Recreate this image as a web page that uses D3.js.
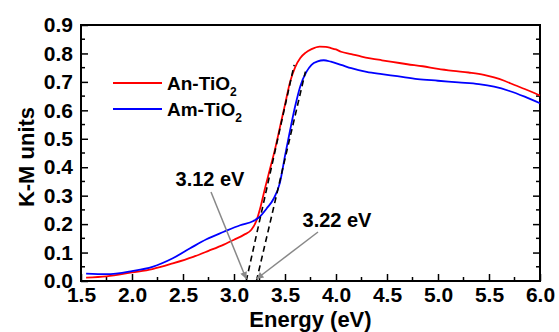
<!DOCTYPE html>
<html>
<head>
<meta charset="utf-8">
<script src="https://cdn.jsdelivr.net/npm/d3@7/dist/d3.min.js"></script>
<style>
  body { margin: 0; background: #fff; }
  svg text { font-family: "Liberation Sans", Arial, sans-serif; font-weight: bold; fill: #000; }
</style>
</head>
<body>
<div id="chart"></div>
<script>
// An-TiO2 (red) K-M values
const anEnergy = [1.55, 1.75, 2.0, 2.2, 2.4, 2.6, 2.75, 2.9, 3.0, 3.1, 3.17, 3.22, 3.26, 3.30, 3.35, 3.40, 3.45, 3.50, 3.55, 3.60, 3.65, 3.70, 3.76, 3.84, 3.90, 3.95, 4.00, 4.05, 4.15, 4.25, 4.35, 4.45, 4.55, 4.70, 4.85, 5.00, 5.15, 5.30, 5.45, 5.55, 5.65, 5.75, 5.85, 5.95, 6.00];
const anKM = [0.012, 0.016, 0.030, 0.042, 0.062, 0.085, 0.106, 0.128, 0.145, 0.163, 0.180, 0.212, 0.26, 0.32, 0.39, 0.46, 0.54, 0.62, 0.70, 0.752, 0.784, 0.802, 0.815, 0.824, 0.823, 0.819, 0.814, 0.806, 0.798, 0.789, 0.782, 0.776, 0.770, 0.762, 0.755, 0.746, 0.739, 0.733, 0.725, 0.716, 0.704, 0.689, 0.675, 0.660, 0.652];

// Am-TiO2 (blue) K-M values
const amEnergy = [1.55, 1.75, 2.0, 2.2, 2.4, 2.57, 2.73, 2.9, 3.06, 3.19, 3.25, 3.32, 3.39, 3.45, 3.50, 3.55, 3.60, 3.65, 3.71, 3.76, 3.82, 3.88, 3.95, 4.05, 4.15, 4.30, 4.45, 4.60, 4.80, 5.00, 5.20, 5.40, 5.55, 5.70, 5.85, 6.00];
const amKM = [0.026, 0.024, 0.035, 0.050, 0.080, 0.115, 0.147, 0.173, 0.196, 0.211, 0.225, 0.255, 0.29, 0.345, 0.44, 0.53, 0.615, 0.685, 0.735, 0.760, 0.772, 0.776, 0.771, 0.760, 0.748, 0.735, 0.727, 0.720, 0.710, 0.704, 0.698, 0.692, 0.683, 0.668, 0.648, 0.625];

// band gap tangent lines: [x0, y0, x1, y1]
const tangents = [[3.12, 0, 3.59, 0.76], [3.22, 0, 3.70, 0.736]];
const gapLabels = ["3.12 eV", "3.22 eV"];
const gapValues = [3.12, 3.22];

const xTicks = [1.5, 2.0, 2.5, 3.0, 3.5, 4.0, 4.5, 5.0, 5.5, 6.0];
const yTicks = [0.0, 0.1, 0.2, 0.3, 0.4, 0.5, 0.6, 0.7, 0.8, 0.9];
const seriesNames = ["An-TiO", "Am-TiO"];
const seriesColors = ["#ff0000", "#0000ff"];

const W = 559, H = 332;
const m = { left: 81, right: 19, top: 25, bottom: 51 };

const svg = d3.select('#chart').append('svg')
  .attr('width', W)
  .attr('height', H);

const x = d3.scaleLinear().domain([1.5, 6.0]).range([m.left, W - m.right]);
const y = d3.scaleLinear().domain([0, 0.9]).range([H - m.bottom, m.top]);

// ticks (inward), major + minor
const xMinor = d3.range(1.75, 6.0, 0.5);
const yMinor = d3.range(0.05, 0.9, 0.1);

const xAxis = d3.axisBottom(x).tickValues(xTicks).tickFormat(d3.format('.1f')).tickSizeInner(-7).tickSizeOuter(0).tickPadding(6);
const yAxis = d3.axisLeft(y).tickValues(yTicks).tickFormat(d3.format('.1f')).tickSizeInner(-7).tickSizeOuter(0).tickPadding(8);

const gx = svg.append('g').attr('transform', `translate(0,${H - m.bottom})`).call(xAxis);
const gy = svg.append('g').attr('transform', `translate(${m.left},0)`).call(yAxis);
// right side ticks (mirror, no labels)
const gr = svg.append('g').attr('transform', `translate(${W - m.right},0)`)
  .call(d3.axisRight(y).tickValues(yTicks.slice(1, -1)).tickFormat('').tickSizeInner(-7).tickSizeOuter(0));

[gx, gy, gr].forEach(g => {
  g.select('.domain').remove();
  g.selectAll('line').attr('stroke', '#000').attr('stroke-width', 1.5);
  g.selectAll('text').attr('font-size', 21).attr('font-family', '"Liberation Sans", Arial, sans-serif').attr('font-weight', 'bold');
});

svg.append('g').selectAll('line').data(xMinor).enter().append('line')
  .attr('x1', d => x(d)).attr('x2', d => x(d))
  .attr('y1', y(0)).attr('y2', y(0) - 4)
  .attr('stroke', '#000').attr('stroke-width', 1.5);
svg.append('g').selectAll('line').data(yMinor).enter().append('line')
  .attr('x1', x(1.5)).attr('x2', x(1.5) + 4)
  .attr('y1', d => y(d)).attr('y2', d => y(d))
  .attr('stroke', '#000').attr('stroke-width', 1.5);
svg.append('g').selectAll('line').data(yMinor).enter().append('line')
  .attr('x1', x(6.0)).attr('x2', x(6.0) - 4)
  .attr('y1', d => y(d)).attr('y2', d => y(d))
  .attr('stroke', '#000').attr('stroke-width', 1.5);

// frame
svg.append('rect')
  .attr('x', x(1.5)).attr('y', y(0.9))
  .attr('width', x(6.0) - x(1.5)).attr('height', y(0) - y(0.9))
  .attr('fill', 'none').attr('stroke', '#000').attr('stroke-width', 2);

// curves
const line = d3.line().curve(d3.curveMonotoneX).x(d => x(d[0])).y(d => y(d[1]));
const series = [d3.zip(anEnergy, anKM), d3.zip(amEnergy, amKM)];
svg.append('g').selectAll('path').data(series).enter().append('path')
  .attr('d', line)
  .attr('fill', 'none')
  .attr('stroke', (d, i) => seriesColors[i])
  .attr('stroke-width', 1.8);

// tangent dashed lines
svg.append('g').selectAll('line').data(tangents).enter().append('line')
  .attr('x1', d => x(d[0])).attr('y1', d => y(d[1]))
  .attr('x2', d => x(d[2])).attr('y2', d => y(d[3]))
  .attr('stroke', '#000').attr('stroke-width', 1.6)
  .attr('stroke-dasharray', '6,4');

// arrows
svg.append('defs').append('marker')
  .attr('id', 'arrow').attr('viewBox', '0 0 10 10')
  .attr('refX', 10).attr('refY', 5)
  .attr('markerWidth', 9).attr('markerHeight', 7)
  .attr('markerUnits', 'userSpaceOnUse')
  .attr('orient', 'auto')
  .append('path').attr('d', 'M0,0L10,5L0,10Z').attr('fill', '#888');

const labelPos = [[210, 186], [337, 227]];
const arrowStart = [[211, 192], [318, 232]];
svg.append('g').selectAll('line').data(gapValues).enter().append('line')
  .attr('x1', (d, i) => arrowStart[i][0]).attr('y1', (d, i) => arrowStart[i][1])
  .attr('x2', d => x(d)).attr('y2', y(0) - 2)
  .attr('stroke', '#888').attr('stroke-width', 1.5)
  .attr('marker-end', 'url(#arrow)');

svg.append('g').selectAll('text').data(gapLabels).enter().append('text')
  .attr('x', (d, i) => labelPos[i][0]).attr('y', (d, i) => labelPos[i][1])
  .attr('text-anchor', 'middle')
  .attr('font-size', 20)
  .text(d => d);

// legend
const leg = svg.append('g').selectAll('g').data(seriesNames).enter().append('g')
  .attr('transform', (d, i) => `translate(113,${83 + i * 26})`);
leg.append('line').attr('x1', 0).attr('x2', 49).attr('y1', 0).attr('y2', 0)
  .attr('stroke', (d, i) => seriesColors[i]).attr('stroke-width', 1.8);
const lt = leg.append('text').attr('x', 54).attr('y', 7).attr('font-size', 19);
lt.append('tspan').text(d => d);
lt.append('tspan').attr('dy', 6).attr('font-size', 12).text('2');

// axis titles
svg.append('text')
  .attr('x', (x(1.5) + x(6.0)) / 2).attr('y', 327)
  .attr('text-anchor', 'middle').attr('font-size', 22)
  .text('Energy (eV)');
svg.append('text')
  .attr('transform', `translate(34,${(y(0) + y(0.9)) / 2 + 4}) rotate(-90)`)
  .attr('text-anchor', 'middle').attr('font-size', 22)
  .text('K-M units');
</script>
</body>
</html>
